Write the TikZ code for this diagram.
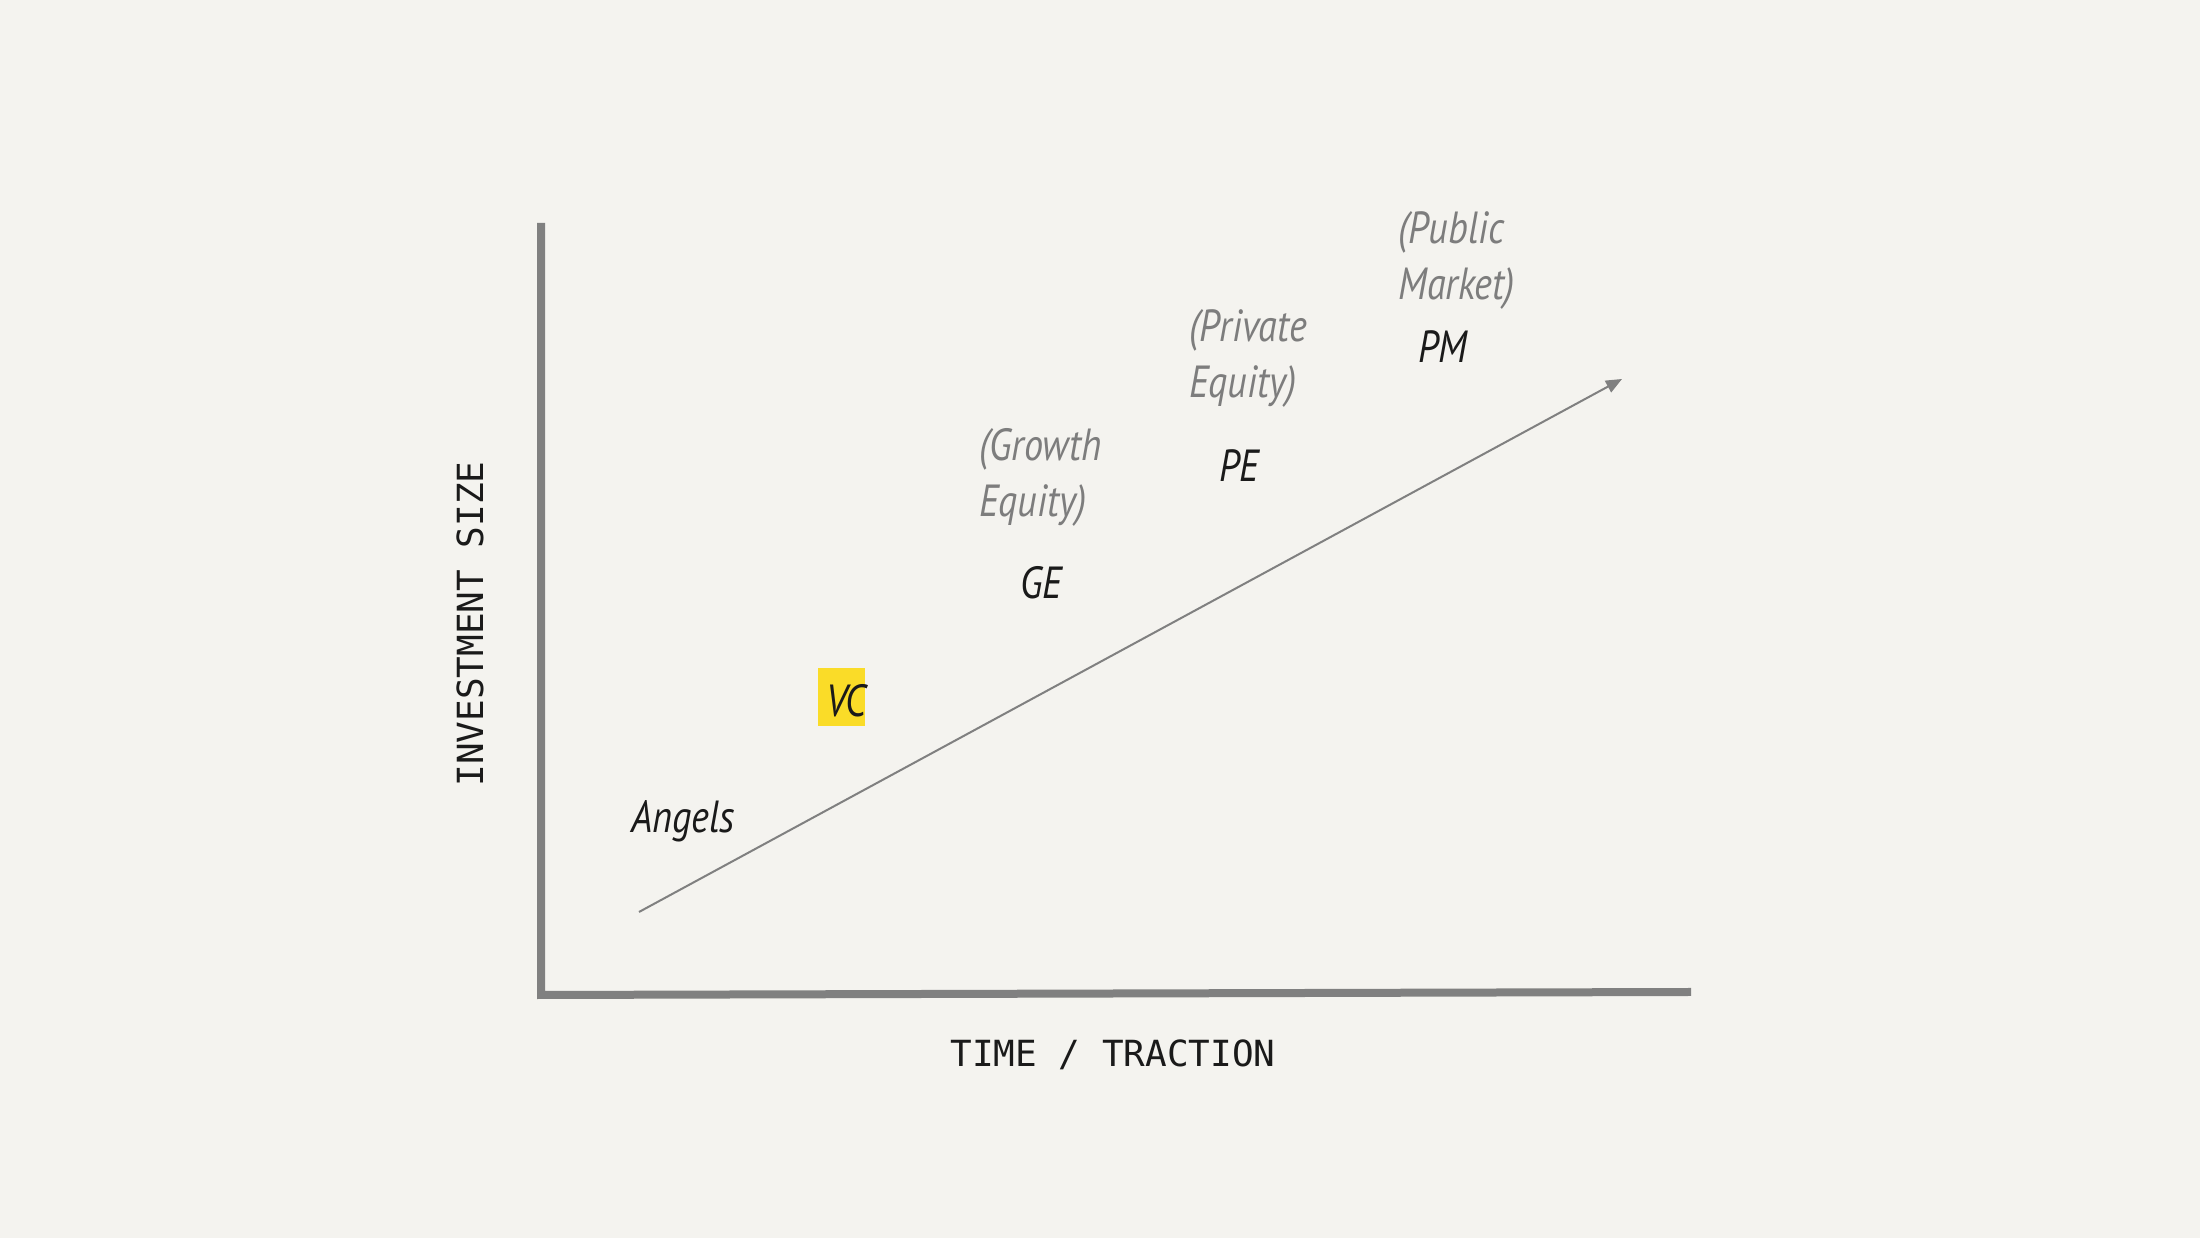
\documentclass[tikz,border=0pt]{standalone}
\usepackage{fontspec}
\usepackage{tikz}
\usetikzlibrary{arrows.meta}
\setmonofont{DejaVu Sans Mono}
\newfontfamily\handfont[FakeStretch=0.85]{PT Sans}
\definecolor{Paper}{HTML}{F4F3EF}
\definecolor{AxisGray}{HTML}{808080}
\definecolor{NoteGray}{HTML}{7D7D7D}
\definecolor{Highlight}{HTML}{FADC28}
\definecolor{Ink}{HTML}{1A1A1A}

\begin{document}
\begin{tikzpicture}[x=1pt,y=1pt,
    axislabel/.style={font=\fontsize{36}{36}\selectfont\ttfamily, text=Ink, inner sep=0pt},
    fund/.style={font=\fontsize{45}{56}\selectfont\handfont\itshape, text=Ink, inner sep=0pt, anchor=base west},
    note/.style={fund, text=NoteGray, align=left}]
        \fill[Paper] (0,0) rectangle (2200,1238);
        \useasboundingbox (0,0) rectangle (2200,1238);
        % axes
        \coordinate (top) at (541,1015);
        \coordinate (origin) at (541,243);
        \coordinate (right) at (1691,246);
        \draw[AxisGray, line width=8pt] (top) -- (origin) -- (right);
        \node[axislabel, rotate=90] (ylab) at (470,614) {INVESTMENT SIZE};
        \node[axislabel, anchor=base] (xlab) at (1113,171) {TIME / TRACTION};
        % trend
        \coordinate (start) at (639,326);
        \coordinate (end) at (1622,859);
        \draw[AxisGray, line width=2pt, -{Triangle[length=16pt,width=13pt]}] (start) -- (end);
        % stages
        \node[fill=Highlight, minimum width=47pt, minimum height=58pt, inner sep=0pt] (vcbox) at (841.5,541) {};
        \node[fund] (angels) at (631,405) {Angels};
        \node[fund] (vc) at (826,521) {VC};
        \node[fund] (ge) at (1020,639) {GE};
        \node[fund] (pe) at (1219,756) {PE};
        \node[fund] (pm) at (1418,875) {PM};
        % second line is the base line
        \node[note] (growth) at (979,721) {(Growth\\Equity)};
        \node[note] (private) at (1189,840) {(Private\\Equity)};
        \node[note] (public) at (1398,938) {(Public\\Market)};
      \end{tikzpicture}
\end{document}
